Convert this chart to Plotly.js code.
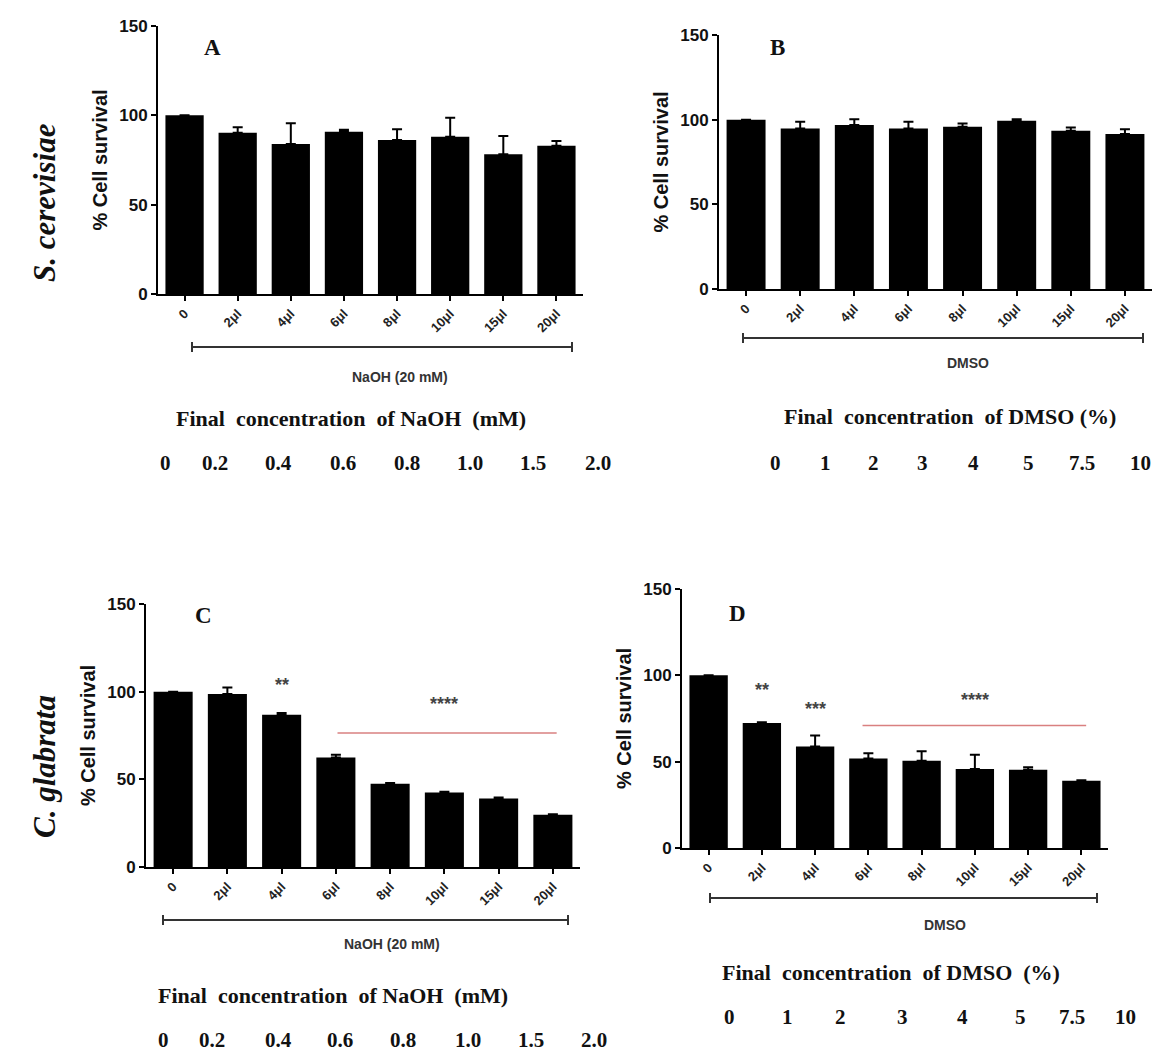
<!DOCTYPE html>
<html>
<head>
<meta charset="utf-8">
<script src="https://cdn.plot.ly/plotly-3.0.1.min.js"></script>
<style>html,body{margin:0;padding:0;background:#fff;}#chart{width:1158px;height:1052px;}</style>
</head>
<body>
<div id="chart"></div>
<script>
// ---------- data ----------
var categories = ['0', '2μl', '4μl', '6μl', '8μl', '10μl', '15μl', '20μl'];

var survivalA = [100, 90.3, 84, 90.8, 86.2, 88, 78.2, 83];
var errorA    = [0, 3, 11.5, 1.2, 6, 10.7, 10.2, 2.6];

var survivalB = [100, 94.8, 96.8, 94.8, 95.8, 99.3, 93.4, 91.5];
var errorB    = [0, 4, 3.5, 4, 2, 1, 2, 2.8];

var survivalC = [100, 98.7, 86.9, 62.5, 47.5, 42.5, 39, 29.8];
var errorC    = [0, 3.7, 1, 1.5, 0.4, 0.4, 0.6, 0.3];

var survivalD = [100, 72.4, 58.8, 51.9, 50.6, 45.8, 45.3, 39];
var errorD    = [0, 0.4, 6.4, 3, 5.4, 8.2, 1.4, 0.3];

var naohConc = ['0', '0.2', '0.4', '0.6', '0.8', '1.0', '1.5', '2.0'];
var dmsoConc = ['0', '1', '2', '3', '4', '5', '7.5', '10'];

// significance marks: [category index, y value, text]
var sigC = [[2, 104, '**'], [5, 93, '****']];
var sigD = [[1, 91.5, '**'], [2, 80.5, '***'], [5, 86, '****']];
var redLineC = {from: 3.03, to: 7.07, y: 76.4};
var redLineD = {from: 2.89, to: 7.09, y: 71};

// ---------- helpers ----------
var W = 1158, H = 1052;
function px(x) { return x / W; }
function py(y) { return 1 - y / H; }

var sans = 'Liberation Sans, Arial, sans-serif';
var serif = 'Liberation Serif, Times New Roman, serif';
var GAP = '\u00a0 ';

function barTrace(vals, errs, xa, ya) {
  return {
    type: 'bar', x: categories, y: vals, xaxis: xa, yaxis: ya,
    marker: {color: '#000', line: {width: 0}},
    error_y: {type: 'data', symmetric: false, array: errs,
              arrayminus: errs.map(function () { return 0; }),
              color: '#000', thickness: 2, width: 5},
    hoverinfo: 'skip', showlegend: false
  };
}

var data = [
  barTrace(survivalA, errorA, 'x', 'y'),
  barTrace(survivalB, errorB, 'x2', 'y2'),
  barTrace(survivalC, errorC, 'x3', 'y3'),
  barTrace(survivalD, errorD, 'x4', 'y4')
];

function xAxis(dom, anchor) {
  return {
    domain: dom, anchor: anchor, type: 'category', range: [-0.5, 7.5],
    showline: true, linecolor: '#000', linewidth: 2, mirror: false,
    ticks: 'outside', ticklen: 5, tickwidth: 2, tickcolor: '#000',
    tickangle: -45, showgrid: false, zeroline: false,
    tickfont: {family: sans, size: 13, color: '#222', weight: 'bold'}
  };
}
function yAxis(dom, anchor) {
  return {
    domain: dom, anchor: anchor, range: [0, 150], tickvals: [0, 50, 100, 150],
    showline: true, linecolor: '#000', linewidth: 2,
    ticks: 'outside', ticklen: 5, tickwidth: 2, tickcolor: '#000',
    showgrid: false, zeroline: false,
    tickfont: {family: sans, size: 17, color: '#111', weight: 'bold'},
    title: {text: '% Cell survival', standoff: 6,
            font: {family: sans, size: 20, color: '#111', weight: 'bold'}}
  };
}

var layout = {
  width: W, height: H,
  margin: {l: 0, r: 0, t: 0, b: 0},
  paper_bgcolor: '#fff', plot_bgcolor: '#fff',
  bargap: 0.28, showlegend: false,
  xaxis:  xAxis([px(158), px(583)], 'y'),
  yaxis:  yAxis([py(294), py(26)], 'x'),
  xaxis2: xAxis([px(719), px(1152)], 'y2'),
  yaxis2: yAxis([py(289), py(35)], 'x2'),
  xaxis3: xAxis([px(146), px(580)], 'y3'),
  yaxis3: yAxis([py(867), py(604)], 'x3'),
  xaxis4: xAxis([px(682), px(1108)], 'y4'),
  yaxis4: yAxis([py(848), py(589)], 'x4'),
  shapes: [],
  annotations: []
};

// brackets below x axes
function bracket(x0, x1, y) {
  var lc = {color: '#333', width: 2};
  layout.shapes.push({type: 'line', xref: 'paper', yref: 'paper', x0: px(x0), x1: px(x1), y0: py(y), y1: py(y), line: lc});
  layout.shapes.push({type: 'line', xref: 'paper', yref: 'paper', x0: px(x0), x1: px(x0), y0: py(y - 5), y1: py(y + 5), line: lc});
  layout.shapes.push({type: 'line', xref: 'paper', yref: 'paper', x0: px(x1), x1: px(x1), y0: py(y - 5), y1: py(y + 5), line: lc});
}
bracket(192, 572, 347);
bracket(743, 1143, 338);
bracket(163, 568, 920);
bracket(710, 1097, 898);

function txt(x, y, text, font, extra) {
  var a = {xref: 'paper', yref: 'paper', x: px(x), y: py(y), text: text,
           showarrow: false, xanchor: 'center', yanchor: 'middle', font: font};
  if (extra) for (var k in extra) a[k] = extra[k];
  layout.annotations.push(a);
}
var smallSans = {family: sans, size: 14, color: '#333', weight: 'bold'};
txt(400, 377, 'NaOH (20 mM)', smallSans);
txt(968, 363, 'DMSO', smallSans);
txt(392, 944, 'NaOH (20 mM)', smallSans);
txt(945, 925, 'DMSO', smallSans);

var titleSerif = {family: serif, size: 22, color: '#111', weight: 'bold'};
var numSerif = {family: serif, size: 21, color: '#111', weight: 'bold'};
txt(351, 418, 'Final' + GAP + 'concentration' + GAP + 'of NaOH' + GAP + '(mM)', titleSerif);
txt(950, 416, 'Final' + GAP + 'concentration' + GAP + 'of DMSO (%)', titleSerif);
txt(333, 995, 'Final' + GAP + 'concentration' + GAP + 'of NaOH' + GAP + '(mM)', titleSerif);
txt(891, 972, 'Final' + GAP + 'concentration' + GAP + 'of DMSO' + GAP + '(%)', titleSerif);

var numX_A = [165, 215, 278, 343, 407, 470, 533, 598];
var numX_B = [775, 825, 873, 922, 973, 1028, 1082, 1140];
var numX_C = [163, 212, 278, 340, 403, 468, 531, 594];
var numX_D = [730, 787, 840, 902, 962, 1020, 1072, 1125];
for (var i = 0; i < 8; i++) {
  txt(numX_A[i], 463, naohConc[i], numSerif);
  txt(numX_B[i], 463, dmsoConc[i], numSerif);
  txt(numX_C[i], 1040, naohConc[i], numSerif);
  txt(numX_D[i], 1017, dmsoConc[i], numSerif);
}

// panel letters
var letterFont = {family: serif, size: 23, color: '#111', weight: 'bold'};
txt(213, 47, 'A', letterFont);
txt(777, 47, 'B', letterFont);
txt(203, 615, 'C', letterFont);
txt(737, 613, 'D', letterFont);

// species labels
var speciesFont = {family: serif, size: 31, color: '#111', weight: 'bold', style: 'italic'};
txt(44, 203, 'S. cerevisiae', speciesFont, {textangle: -90});
txt(44, 767, 'C. glabrata', speciesFont, {textangle: -90});

// significance marks
function sig(list, xa, ya) {
  list.forEach(function (s) {
    layout.annotations.push({xref: xa, yref: ya, x: s[0], y: s[1], text: s[2], showarrow: false,
      font: {family: sans, size: 18, color: '#444', weight: 'bold'}});
  });
}
sig(sigC, 'x3', 'y3');
sig(sigD, 'x4', 'y4');

function redLine(r, xa, ya) {
  layout.shapes.push({type: 'line', xref: xa, yref: ya, x0: r.from, x1: r.to, y0: r.y, y1: r.y,
    line: {color: '#d98080', width: 1.5}});
}
redLine(redLineC, 'x3', 'y3');
redLine(redLineD, 'x4', 'y4');

Plotly.newPlot('chart', data, layout, {displayModeBar: false, staticPlot: true});
</script>
</body>
</html>
